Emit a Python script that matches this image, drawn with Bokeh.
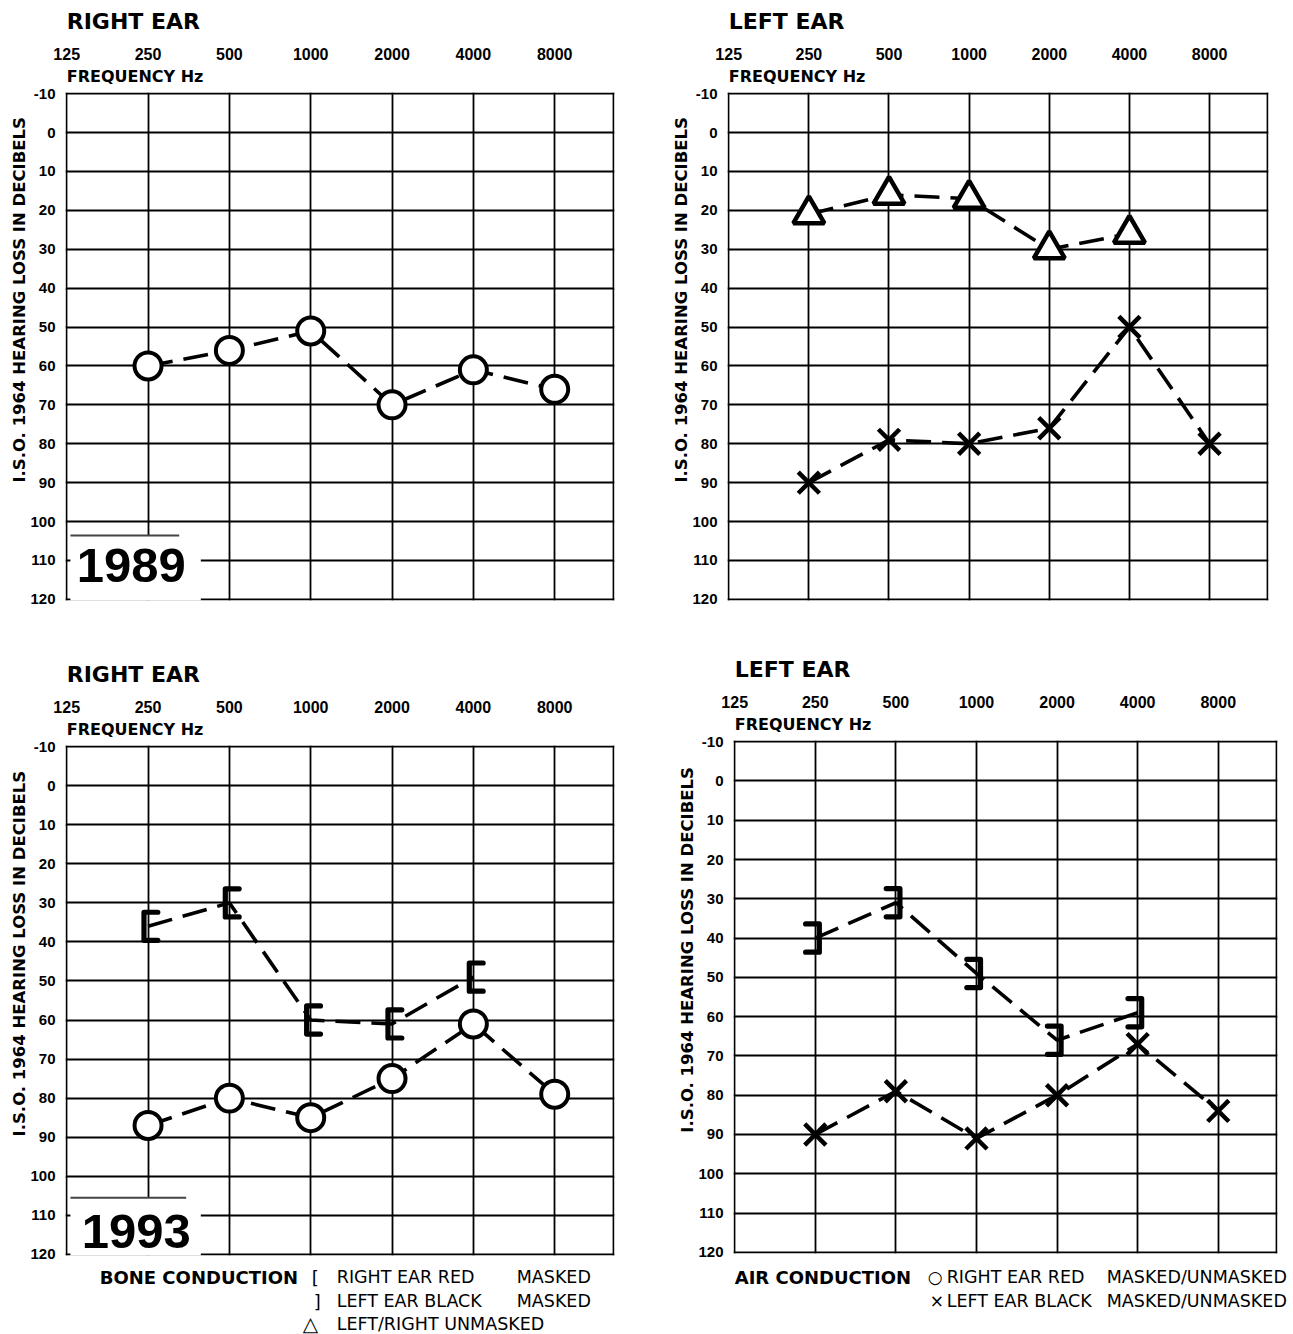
import math
from bokeh.plotting import figure
from bokeh.models import (FixedTicker, NumeralTickFormatter, Label, BoxAnnotation,
                          Range1d)
from bokeh.layouts import column, row
from bokeh.embed import file_html
from bokeh.resources import INLINE

# ---------------- data ----------------
FREQ_TICKS = [125, 250, 500, 1000, 2000, 4000, 8000]
DB_TICKS = [-10, 0, 10, 20, 30, 40, 50, 60, 70, 80, 90, 100, 110, 120]
X_MAX = 13180  # right edge of the printed grid (Hz)

# 1989 - right ear, air conduction (circles)
r89_air_freq = [250, 500, 1000, 2000, 4000, 8000]
r89_air_db = [60, 56, 51, 70, 61, 66]
# 1989 - left ear, bone conduction unmasked (triangles)
l89_bone_freq = [250, 500, 1000, 2000, 4000]
l89_bone_db = [21, 16, 17, 30, 26]
# 1989 - left ear, air conduction (crosses)
l89_air_freq = [250, 500, 1000, 2000, 4000, 8000]
l89_air_db = [90, 79, 80, 76, 50, 80]
# 1993 - right ear, bone conduction masked ( [ )
r93_bone_freq = [250, 500, 1000, 2000, 4000]
r93_bone_db = [36, 30, 60, 61, 49]
# 1993 - right ear, air conduction (circles)
r93_air_freq = [250, 500, 1000, 2000, 4000, 8000]
r93_air_db = [87, 80, 85, 75, 61, 79]
# 1993 - left ear, bone conduction masked ( ] )
l93_bone_freq = [250, 500, 1000, 2000, 4000]
l93_bone_db = [40, 31, 49, 66, 59]
# 1993 - left ear, air conduction (crosses)
l93_air_freq = [250, 500, 1000, 2000, 4000, 8000]
l93_air_db = [90, 79, 91, 80, 67, 84]

Y_TITLE = "I.S.O. 1964 HEARING LOSS IN DECIBELS"
DASH = "25 11"
FONT = "DejaVu Sans"
NUMFONT = "Liberation Sans"
PAD_OCT = 0.015  # tiny padding so the border grid lines are drawn fully


def lab(p, text, dx, dy, side, x=125, y=-10, size="15px", bold=True, font=FONT,
        align="left", baseline="middle", angle=0.0):
    lbl = Label(x=x, y=y, x_offset=dx, y_offset=dy, text=text,
                text_font=font, text_font_size=size,
                text_font_style="bold" if bold else "normal",
                text_align=align, text_baseline=baseline, angle=angle,
                text_color="black")
    p.add_layout(lbl, side)


def panel(title, bl, fw, br, bt, fh, bb):
    p = figure(x_axis_type="log", x_axis_location="above",
               x_range=Range1d(125 * 2 ** -PAD_OCT, X_MAX * 2 ** PAD_OCT),
               y_range=Range1d(120.3, -10.3),
               frame_width=fw, frame_height=fh,
               min_border_left=bl, min_border_right=br,
               min_border_top=bt, min_border_bottom=bb,
               toolbar_location=None, output_backend="svg", title=None)
    p.outline_line_color = None
    p.background_fill_color = "white"
    p.border_fill_color = "white"

    xa = p.xaxis[0]
    xa.ticker = FixedTicker(ticks=FREQ_TICKS)
    xa.formatter = NumeralTickFormatter(format="0")
    xa.axis_line_color = None
    xa.major_tick_in = 0
    xa.major_tick_out = 0
    xa.minor_tick_line_color = None
    xa.major_label_standoff = 33
    xa.major_label_text_font = NUMFONT
    xa.major_label_text_font_size = "16px"
    xa.major_label_text_font_style = "bold"
    xa.major_label_text_color = "black"

    ya = p.yaxis[0]
    ya.ticker = FixedTicker(ticks=DB_TICKS)
    ya.formatter = NumeralTickFormatter(format="0")
    ya.axis_line_color = None
    ya.major_tick_in = 0
    ya.major_tick_out = 0
    ya.minor_tick_line_color = None
    ya.major_label_standoff = 10
    ya.major_label_text_font = NUMFONT
    ya.major_label_text_font_size = "15px"
    ya.major_label_text_font_style = "bold"
    ya.major_label_text_color = "black"

    p.xgrid[0].ticker = FixedTicker(ticks=FREQ_TICKS + [X_MAX])
    p.ygrid[0].ticker = FixedTicker(ticks=DB_TICKS)
    for g in (p.xgrid[0], p.ygrid[0]):
        g.grid_line_color = "black"
        g.grid_line_width = 1.8
        g.grid_line_alpha = 1.0

    lab(p, title, 0, 72, "above", size="22px")
    lab(p, "FREQUENCY Hz", 0, 17, "above", size="16px")
    lab(p, Y_TITLE, -47, 0, "left", y=43, size="16.5px", align="center",
        angle=math.pi / 2)
    return p


def dashed(p, xs, ys):
    p.line(xs, ys, line_color="black", line_width=3.6, line_dash=DASH)


def circles(p, xs, ys):
    dashed(p, xs, ys)
    p.scatter(xs, ys, marker="circle", size=27, fill_color="white",
              line_color="black", line_width=4)


def crosses(p, xs, ys):
    dashed(p, xs, ys)
    p.scatter(xs, ys, marker="x", size=30, line_color="black", line_width=4.5)


def triangles(p, xs, ys):
    dashed(p, xs, ys)
    p.scatter(xs, ys, marker="triangle", size=31, fill_color="white",
              line_color="black", line_width=4.5)


def brackets(p, xs, ys, side):
    """Bone-conduction bracket symbols built around each data point.
    side = -1 for '[' (right ear), +1 for ']' (left ear)."""
    dashed(p, xs, ys)
    bar_oct, arm_oct, half_db = 0.05 * side, -0.12 * side, 3.6
    bx, by = [], []
    for f, d in zip(xs, ys):
        xb = f * 2 ** bar_oct
        xa = f * 2 ** arm_oct
        bx.append([xa, xb, xb, xa])
        by.append([d - half_db, d - half_db, d + half_db, d + half_db])
    p.multi_line(bx, by, line_color="black", line_width=5.2,
                 line_join="round", line_cap="round")


def year_box(p, year, top_db, right_hz, line_right_hz, dx, dy):
    p.add_layout(BoxAnnotation(left=129, right=right_hz, top=top_db, bottom=126,
                               fill_color="white", fill_alpha=1.0, line_color=None))
    p.add_layout(BoxAnnotation(left=129, right=line_right_hz, top=top_db - 0.25,
                               bottom=top_db + 0.25, fill_color="#444444",
                               fill_alpha=1.0, line_color=None))
    p.add_layout(Label(x=125, y=120, x_offset=dx, y_offset=dy, text=year,
                       text_font=NUMFONT, text_font_size="49px",
                       text_font_style="bold", text_baseline="middle",
                       text_color="black"))


# ---------------- panels ----------------
p1 = panel("RIGHT EAR", 65, 549, 26, 92, 508, 40)
circles(p1, r89_air_freq, r89_air_db)
year_box(p1, "1989", 103.6, 392, 326, 10, 34)

p2 = panel("LEFT EAR", 87, 541, 24, 92, 508, 40)
triangles(p2, l89_bone_freq, l89_bone_db)
crosses(p2, l89_air_freq, l89_air_db)

p3 = panel("RIGHT EAR", 65, 549, 26, 105, 510, 78)
brackets(p3, r93_bone_freq, r93_bone_db, -1)
circles(p3, r93_air_freq, r93_air_db)
year_box(p3, "1993", 105.5, 392, 346, 15, 23)
B = dict(side="below", y=120)
lab(p3, "BONE CONDUCTION", 33, -23, size="18px", **B)
lab(p3, "[", 245, -23, size="18px", bold=False, **B)
lab(p3, "RIGHT EAR RED", 270, -23, size="17.5px", bold=False, **B)
lab(p3, "MASKED", 450, -23, size="17.5px", bold=False, **B)
lab(p3, "]", 247, -47, size="18px", bold=False, **B)
lab(p3, "LEFT EAR BLACK", 270, -47, size="17.5px", bold=False, **B)
lab(p3, "MASKED", 450, -47, size="17.5px", bold=False, **B)
lab(p3, "\u25b3", 236, -70, size="20px", bold=False, **B)
lab(p3, "LEFT/RIGHT UNMASKED", 270, -70, size="17.5px", bold=False, **B)

p4 = panel("LEFT EAR", 93, 544, 15, 100, 513, 80)
brackets(p4, l93_bone_freq, l93_bone_db, 1)
crosses(p4, l93_air_freq, l93_air_db)
lab(p4, "AIR CONDUCTION", 0, -25, size="18px", **B)
lab(p4, "\u25cb", 193, -25, size="17px", bold=False, **B)
lab(p4, "RIGHT EAR RED", 212, -25, size="17.5px", bold=False, **B)
lab(p4, "MASKED/UNMASKED", 372, -25, size="17.5px", bold=False, **B)
lab(p4, "\u00d7", 195, -49, size="17px", bold=False, **B)
lab(p4, "LEFT EAR BLACK", 212, -49, size="17.5px", bold=False, **B)
lab(p4, "MASKED/UNMASKED", 372, -49, size="17.5px", bold=False, **B)

layout = column(row(p1, p2), row(p3, column(p4)))
open("out.html", "w").write(file_html(layout, INLINE))
